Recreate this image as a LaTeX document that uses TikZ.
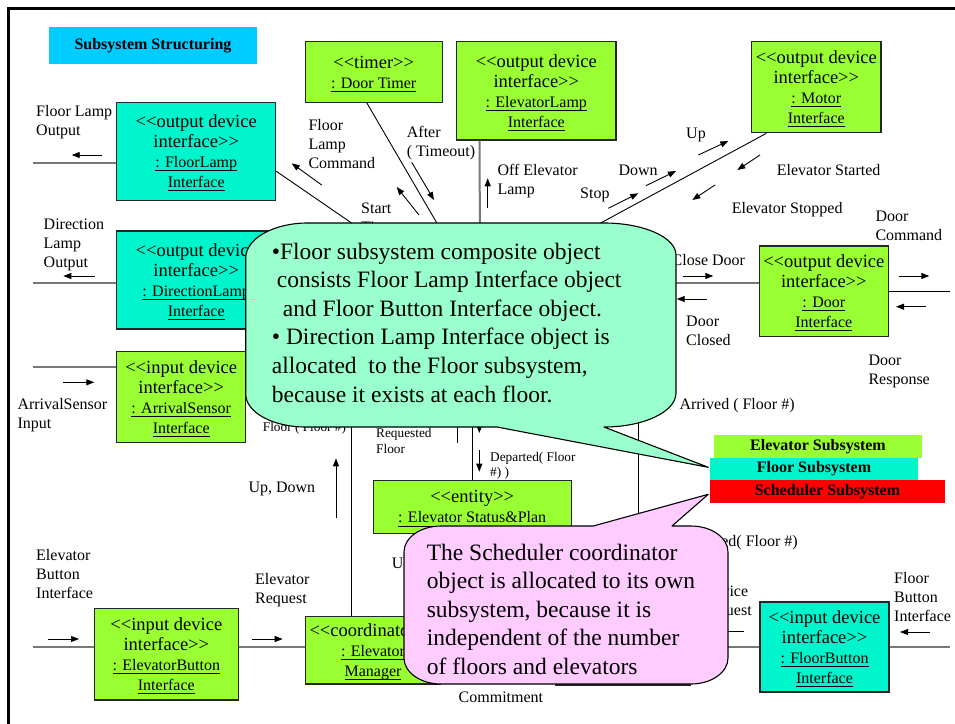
\documentclass[tikz,border=0pt]{standalone}
\usepackage{fontspec}
\setmainfont{Liberation Serif}
\usetikzlibrary{arrows.meta,calc}

\definecolor{elgreen}{RGB}{153,255,51}
\definecolor{flteal}{RGB}{0,245,204}
\definecolor{titlecyan}{RGB}{0,204,255}
\definecolor{notegreen}{RGB}{153,255,204}
\definecolor{notepink}{RGB}{255,204,255}
\definecolor{linegray}{RGB}{120,120,120}

\newcommand\boxfont{\fontsize{18.5}{20}\selectfont}
\newcommand\namefont{\fontsize{16}{20}\selectfont}
\newcommand\labfont{\fontsize{16}{19}\selectfont}
\newcommand\smalllabfont{\fontsize{13.3}{15.8}\selectfont}
\newcommand\notefont{\fontsize{23.5}{28.6}\selectfont}
\newcommand\keyfont{\fontsize{16}{19}\selectfont\bfseries}
\newsavebox\ulbox
\newcommand\ulin[1]{{\namefont\sbox\ulbox{#1}\rlap{\rule[-3.6pt]{\wd\ulbox}{0.9pt}}\usebox\ulbox}}
% stereotype brackets, kept apart so they stay two separate signs
\newcommand\stlt{\rule{0pt}{16pt}\textless\kern0pt\textless}
\newcommand\stgt{\textgreater\kern0pt\textgreater}

\tikzset{
  objbox/.style={draw=black!85, line width=1.1pt, inner sep=0pt, align=center, font=\boxfont},
  elbox/.style={objbox, fill=elgreen},
  flbox/.style={objbox, fill=flteal},
  % labels are placed by the baseline of their last line
  lab/.style={inner sep=0pt, anchor=base west, align=left, font=\labfont},
  smalllab/.style={lab, font=\smalllabfont},
  gline/.style={draw=linegray, line width=2pt},
  bline/.style={draw=black, line width=0.9pt},
  flow/.style={draw=black, line width=0.9pt, -{Triangle[length=8pt,width=6pt]}},
  note/.style={draw=black, line width=1.1pt, line join=round},
  notetext/.style={inner sep=0pt, anchor=base west, align=left, font=\notefont},
  key/.style={inner sep=0pt, font=\keyfont},
}

\begin{document}
\begin{tikzpicture}[x=1pt,y=-1pt]
\useasboundingbox (0,0) rectangle (955,723);
\fill[white] (0,0) rectangle (955,723);

% outer frame
\draw[line width=2.6pt] (8.7,740) -- (8.7,8.7) -- (970,8.7);

% heading
\node[key, fill=titlecyan, minimum width=208, minimum height=37.3] (title) at (153,45.8) {Subsystem Structuring};

% object boxes
\node[flbox, minimum width=159, minimum height=97.6] (floorlamp) at (196.2,151.5)
  {\stlt output device\\interface\stgt\\\ulin{: FloorLamp}\\\ulin{Interface}};
\node[flbox, minimum width=159, minimum height=98] (directionlamp) at (196.2,280)
  {\stlt output device\\interface\stgt\\\ulin{: DirectionLamp}\\\ulin{Interface}};
\node[elbox, minimum width=129, minimum height=90.6] (arrivalsensor) at (181.2,397)
  {\stlt input device\\interface\stgt\\\ulin{: ArrivalSensor}\\\ulin{Interface}};
\node[elbox, minimum width=137.3, minimum height=60.6] (doortimer) at (373.7,72)
  {\stlt timer\stgt\\\ulin{: Door Timer}};
\node[elbox, minimum width=159.3, minimum height=98.3] (elevatorlamp) at (536.3,90.8)
  {\stlt output device\\interface\stgt\\\ulin{: ElevatorLamp}\\\ulin{Interface}};
\node[elbox, minimum width=129.3, minimum height=91] (motor) at (816.3,87.2)
  {\stlt output device\\interface\stgt\\\ulin{: Motor}\\\ulin{Interface}};
\node[elbox, minimum width=129, minimum height=90.7] (door) at (823.8,291.3)
  {\stlt output device\\interface\stgt\\\ulin{: Door}\\\ulin{Interface}};
\node[elbox, minimum width=197.7, minimum height=53.3] (status) at (472.2,506.7)
  {\stlt entity\stgt\\\ulin{: Elevator Status\&Plan}};
\node[elbox, minimum width=144, minimum height=91.3] (elevbutton) at (166.3,654.3)
  {\stlt input device\\interface\stgt\\\ulin{: ElevatorButton}\\\ulin{Interface}};
\node[draw=black!85, line width=1.1pt, fill=white, minimum width=134, minimum height=73, inner sep=0pt] (scheduler) at (623,648.5) {};
\node[elbox, minimum width=134.3, minimum height=67.3] (manager) at (373,650.3)
  {\stlt coordinator\stgt\\\ulin{: Elevator}\\\ulin{Manager}};
\node[flbox, minimum width=129, minimum height=90] (floorbutton) at (824.5,647)
  {\stlt input device\\interface\stgt\\\ulin{: FloorButton}\\\ulin{Interface}};

% free ends of the links
\coordinate (flo) at (33,163);
\coordinate (dlo) at (33,283);
\coordinate (asi) at (33,367);
\coordinate (ebi) at (33,647);
\coordinate (fbo) at (950,647);
\coordinate (dro) at (950,291.3);
\coordinate (dli) at (640,283);
\coordinate (fhid) at (385,246);
\coordinate (thid) at (452,249);
\coordinate (lhid) at (480,250);
\coordinate (mhid) at (560,245);
\coordinate (v1) at (351,405);
\coordinate (v2) at (472,405);
\coordinate (v3) at (638,395);
\coordinate (eb) at ($(elevbutton.north east)!0.42!(elevbutton.south east)$);

% links
\draw[gline] (flo) -- (flo -| floorlamp.west);
\draw[gline] (dlo) -- (dlo -| directionlamp.west);
\draw[gline] (asi) -- (asi -| arrivalsensor.west);
\draw[gline] (ebi) -- (ebi -| elevbutton.west);
\draw[gline] (eb) -- (eb -| manager.west);
\draw[gline] (floorbutton.east) -- (fbo);
\draw[gline] (floorbutton.west) -- (scheduler.east |- floorbutton.west);
\draw[gline] (manager.east) -- (manager.east -| scheduler.west);
\draw[gline] (door.west |- dli) -- (dli);
\draw[bline] (door.east) -- (dro);
\draw[gline] ($(elevatorlamp.south west)!0.146!(elevatorlamp.south east)$) -- (lhid);
\draw[bline] ($(motor.south west)!0.118!(motor.south east)$) -- (mhid);
\draw[bline] ($(doortimer.south west)!0.45!(doortimer.south east)$) -- (thid);
\draw[bline] ($(floorlamp.north east)!0.70!(floorlamp.south east)$) -- (fhid);
\draw[bline] (v1) -- (v1 |- manager.north);
\draw[bline] (v2) -- (v2 |- status.north);
\draw[bline] (v3) -- (v3 |- scheduler.north);

% message arrows
\draw[flow] (101.7,155) -- (71.7,155);
\draw[flow] (95,276) -- (63.3,276);
\draw[flow] (63.3,382.3) -- (94.3,382.3);
\draw[flow] (48.3,639) -- (79,639);
\draw[flow] (252.3,639) -- (282.7,639);
\draw[flow] (930,632) -- (900,632);
\draw[flow] (321.7,185) -- (291.7,163.3);
\draw[flow] (419,215) -- (396.7,187);
\draw[flow] (411.7,162.3) -- (434,200);
\draw[flow] (487.7,208.3) -- (487.7,178.3);
\draw[flow] (608.3,208.3) -- (638.3,193.3);
\draw[flow] (646,185.7) -- (676,171);
\draw[flow] (698.3,155) -- (728.3,141);
\draw[flow] (760,155) -- (737.3,170);
\draw[flow] (715,185) -- (692.3,200);
\draw[flow] (683.3,276) -- (713.3,276);
\draw[flow] (706.7,299) -- (676.7,299);
\draw[flow] (899.3,276) -- (929.3,276);
\draw[flow] (926,306.7) -- (896,306.7);
\draw[flow] (336,518.3) -- (336,458.3);
\draw[flow] (479.3,450) -- (479.3,471.7);
\draw[flow] (479.3,405) -- (479.3,433);
\draw[flow] (457,443) -- (457,410);
\draw[flow] (744,631) -- (712,631);

% message labels
\node[lab] (lflo) at (36,135.7) {Floor Lamp\\Output};
\node[lab] (ldlo) at (43.5,267) {Direction\\Lamp\\Output};
\node[lab] (lasi) at (17.3,428.3) {ArrivalSensor\\Input};
\node[lab] (lebi) at (36,598.7) {Elevator\\Button\\Interface};
\node[lab] (lerq) at (255,603) {Elevator\\Request};
\node[lab] (lfbi) at (894,621.5) {Floor\\Button\\Interface};
\node[lab] (lflc) at (308.3,168.5) {Floor\\Lamp\\Command};
\node[lab] (laft) at (406.7,156.3) {After\\( Timeout)};
\node[lab] (lst) at (361,232.3) {Start\\Timer};
\node[lab] (loel) at (497.3,194.7) {Off Elevator\\Lamp};
\node[lab] (lstop) at (580,198.3) {Stop};
\node[lab] (ldown) at (618.3,175.7) {Down};
\node[lab] (lup) at (686,138.3) {Up};
\node[lab] (lest) at (776.7,175.7) {Elevator Started};
\node[lab] (lesp) at (731.7,213.3) {Elevator Stopped};
\node[lab] (ldc) at (875.3,240) {Door\\Command};
\node[lab] (lcd) at (671.5,265.7) {Close Door};
\node[lab] (ldcl) at (686,345.7) {Door\\Closed};
\node[lab] (ldr) at (868.3,384) {Door\\Response};
\node[lab] (larr) at (679.3,409) {Arrived ( Floor \#)};
\node[lab, anchor=base east] (ldep2) at (798,546) {Departed( Floor \#)};
\node[lab] (lud) at (248.3,492.7) {Up, Down};
\node[smalllab] (lff) at (262.7,431) {Floor ( Floor \#)};
\node[smalllab] (lrq) at (376,453.1) {Requested\\Floor};
\node[smalllab] (ldep) at (490,476.8) {Departed( Floor\\\#) )};
\node[lab] (lcom) at (458.5,702) {Commitment};
\node[lab] (lupd) at (391.7,568.3) {U};
\node[lab] (lsr) at (700,615.7) {Service\\Request};

% note on the floor subsystem
\path[note, fill=notegreen] (307.7,223) -- (604,223)
  .. controls (643.7,223) and (676,237.3) .. (676,255) -- (676,393)
  .. controls (676,411.8) and (643.7,427) .. (604,427)
  -- (708.3,467.3) -- (497,427) -- (305.7,427)
  .. controls (272.6,427) and (245.7,412.2) .. (245.7,394) -- (245.7,258)
  .. controls (245.7,238.7) and (273.5,223) .. (307.7,223) -- cycle;
\node[notetext] (floornote) at (271.7,402)
  {•Floor subsystem composite object\\
   \hspace*{5pt}consists Floor Lamp Interface object\\
   \hspace*{11pt}and Floor Button Interface object.\\
   • Direction Lamp Interface object is\\
   allocated\ \ to the Floor subsystem,\\
   because it exists at each floor.};

% note on the scheduler subsystem
\path[note, fill=notepink] (441,526) -- (593.3,526) -- (708.3,494.3) -- (672,526) -- (691,526)
  .. controls (711.4,526) and (728,537.6) .. (728,552) -- (728,658)
  .. controls (728,672.4) and (711.4,684) .. (691,684) -- (441,684)
  .. controls (420.6,684) and (404,672.4) .. (404,658) -- (404,552)
  .. controls (404,537.6) and (420.6,526) .. (441,526) -- cycle;
\node[notetext] (schednote) at (426.6,674.4)
  {The Scheduler coordinator\\object is allocated to its own\\subsystem, because it is\\independent of the number\\of floors and elevators};

% subsystem key
\node[key, fill=elgreen, minimum width=208, minimum height=22.7] (kel) at (818,446.3) {Elevator Subsystem};
\node[key, fill=flteal, minimum width=208, minimum height=22.3] (kfl) at (814,468.8) {Floor Subsystem};
\node[key, fill=red, minimum width=235, minimum height=22.7] (ksc) at (827.5,491.3) {Scheduler Subsystem};
\end{tikzpicture}
\end{document}
